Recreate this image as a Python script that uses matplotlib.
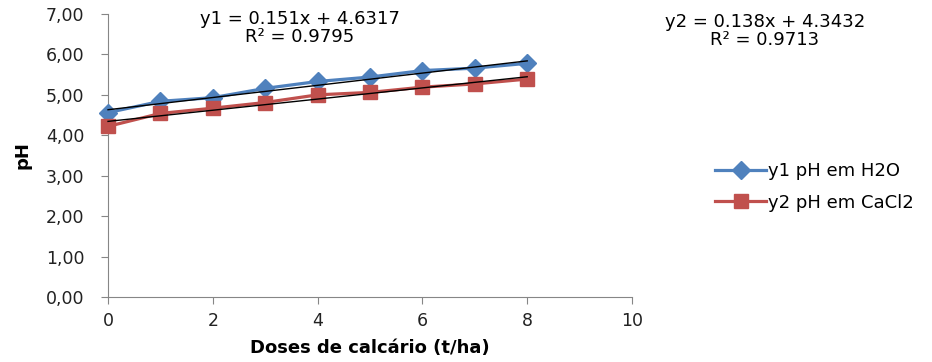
import numpy as np
import matplotlib
matplotlib.use("Agg")
import matplotlib.pyplot as plt
from matplotlib.ticker import FuncFormatter

plt.rcParams.update({
    "font.family": ["DejaVu Sans"],
    "font.size": 12,
})

doses = [0, 1, 2, 3, 4, 5, 6, 7, 8]
ph_h2o = [4.56, 4.84, 4.93, 5.16, 5.33, 5.44, 5.60, 5.66, 5.78]
ph_cacl2 = [4.22, 4.54, 4.67, 4.81, 5.00, 5.06, 5.19, 5.27, 5.39]

# linear trend coefficients (slope, intercept, R²)
fit_h2o = (0.151, 4.6317, 0.9795)
fit_cacl2 = (0.138, 4.3432, 0.9713)

blue = "#4F81BD"
red = "#C0504D"
axis_gray = "#868686"

fig = plt.figure(figsize=(9.32, 3.62), dpi=100)
ax = fig.add_axes([0.1159, 0.1796, 0.5622, 0.7818])

ax.plot(doses, ph_h2o, color=blue, lw=2.3, marker="D", ms=9,
        label="y1 pH em H2O", zorder=3)
ax.plot(doses, ph_cacl2, color=red, lw=2.3, marker="s", ms=10,
        label="y2 pH em CaCl2", zorder=3)

xs = np.array([doses[0], doses[-1]])
for slope, icpt, _ in (fit_h2o, fit_cacl2):
    ax.plot(xs, slope * xs + icpt, color="black", lw=1.0, zorder=4)

ax.set_xlim(0, 10)
ax.set_ylim(0, 7)
ax.set_xticks(range(0, 11, 2))
ax.set_yticks(range(0, 8))
ax.yaxis.set_major_formatter(FuncFormatter(lambda v, p: f"{v:.2f}".replace(".", ",")))

for side in ("top", "right"):
    ax.spines[side].set_visible(False)
for side in ("left", "bottom"):
    ax.spines[side].set_color(axis_gray)
ax.tick_params(colors=axis_gray, labelcolor="#222222", labelsize=12.5, length=5, pad=6)
ax.tick_params(axis="y", pad=12)

ax.set_xlabel("Doses de calcário (t/ha)", fontsize=13, fontweight="bold", labelpad=6)
ax.set_ylabel("pH", fontsize=13, fontweight="bold", labelpad=10)

fig.text(300 / 932, 1 - 28 / 362,
         f"y1 = {fit_h2o[0]}x + {fit_h2o[1]}\nR² = {fit_h2o[2]}",
         ha="center", va="center", fontsize=13, linespacing=1.05)
fig.text(765 / 932, 1 - 31 / 362,
         f"y2 = {fit_cacl2[0]}x + {fit_cacl2[1]}\nR² = {fit_cacl2[2]}",
         ha="center", va="center", fontsize=13, linespacing=1.05)

ax.legend(loc="center left", bbox_to_anchor=(699 / 932, 1 - 187 / 362),
          bbox_transform=fig.transFigure, frameon=False, fontsize=13,
          handlelength=2.8, labelspacing=0.75, handletextpad=0.1)
for line in ax.get_lines():
    line.set_clip_on(False)

fig.savefig("out.png", dpi=100)
